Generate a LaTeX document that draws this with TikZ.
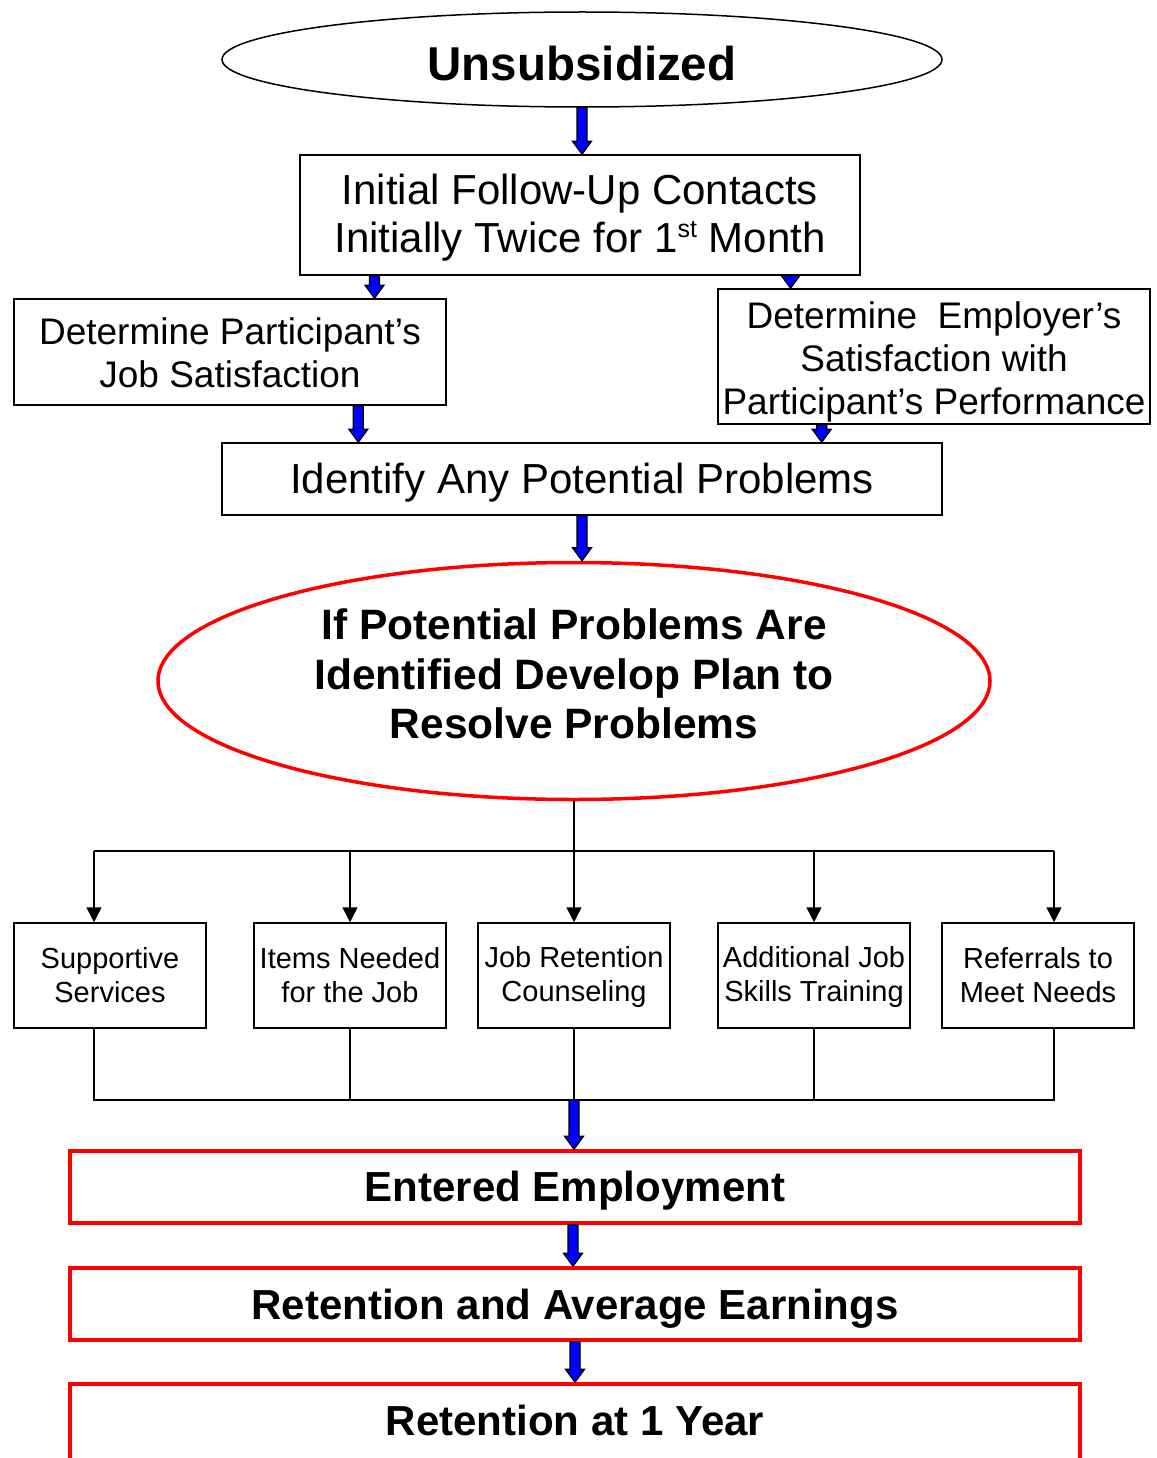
\documentclass[tikz,border=0pt]{standalone}
\usepackage{fontspec}
\setmainfont{Liberation Sans}
\usetikzlibrary{shapes.geometric,arrows.meta,calc}

\tikzset{
  conn/.style={line width=1.5pt,black},
  arr/.style={conn,-{Triangle[width=15pt,length=15pt]}},
  box/.style={draw=black,line width=1.5pt,rectangle,inner sep=0pt},
  redbox/.style={draw=red,line width=3.5pt,rectangle,inner sep=0pt,
    minimum width=1010pt,minimum height=72pt},
  txt/.style={inner sep=0pt,align=center},
  boldtxt/.style={txt,font=\fontsize{42}{48}\selectfont\bfseries},
  bigtxt/.style={txt,font=\fontsize{42}{48}\selectfont},
  midtxt/.style={txt,font=\fontsize{37}{43}\selectfont},
  smalltxt/.style={txt,font=\fontsize{29}{34}\selectfont},
  sbox/.style={box,minimum width=192pt,minimum height=105pt},
  barrow/.style={draw=black,fill=blue,line width=1.2pt,line join=miter},
}

% thick blue block arrow pointing down; x is taken from the start point
\newcommand\blockarrow[2]{%
  \draw[barrow] let \p1=(#1), \p2=(#2) in
    (\x1-5pt,\y1) -- (\x1-5pt,\y2+13pt) -- (\x1-9.5pt,\y2+13pt) -- (\x1,\y2)
    -- (\x1+9.5pt,\y2+13pt) -- (\x1+5pt,\y2+13pt) -- (\x1+5pt,\y1) -- cycle;}
\newcommand\ordsup[1]{\raisebox{15pt}{\fontsize{25}{25}\selectfont #1}}

\begin{document}
\begin{tikzpicture}[x=1pt,y=-1pt]
\useasboundingbox (0,0) rectangle (1156,1458);
\clip (0,0) rectangle (1156,1458);
\fill[white] (0,0) rectangle (1156,1458);

% upper part: shapes
\node[draw=black,line width=1.5pt,ellipse,inner sep=0pt,minimum width=720pt,minimum height=95pt]
  (unsub) at (582,59.5) {};
\node[box,minimum width=560pt,minimum height=120pt] (init) at (580,215) {};
\node[box,minimum width=432pt,minimum height=106pt] (pjs) at (230,352) {};
\node[box,minimum width=432pt,minimum height=135pt] (ejs) at (934,356.5) {};
\node[box,minimum width=720pt,minimum height=72pt] (ident) at (582,479) {};
\node[draw=red,line width=3.5pt,ellipse,inner sep=0pt,minimum width=832pt,minimum height=237pt]
  (plan) at (574,681) {};

% upper part: texts
\node[txt,font=\fontsize{47.5}{52}\selectfont\bfseries] (unsub-t) at ($(unsub)+(0,4)$) {Unsubsidized};
\node[bigtxt] (init-t) at ($(init)+(0,3)$)
  {Initial Follow-Up Contacts\\Initially Twice for 1\ordsup{st} Month};
\node[midtxt] (pjs-t) at ($(pjs)+(0,1)$) {Determine Participant’s\\Job Satisfaction};
\node[midtxt] (ejs-t) at ($(ejs)+(0,5)$)
  {Determine\ \ Employer’s\\Satisfaction with\\Participant’s Performance};
\node[bigtxt] (ident-t) at ($(ident)+(0,4)$) {Identify Any Potential Problems};
\node[txt,font=\fontsize{42.5}{49.5}\selectfont\bfseries] (plan-t) at ($(plan)+(0,-7)$)
  {If Potential Problems Are\\Identified Develop Plan to\\Resolve Problems};

\blockarrow{unsub.south}{init.north}
\blockarrow{$(init.south west)!0.134!(init.south east)$}{pjs.north}
\blockarrow{$(init.south west)!0.875!(init.south east)$}{ejs.north}
\blockarrow{$(pjs.south west)!0.796!(pjs.south east)$}{ident.north}
\blockarrow{$(ejs.south west)!0.241!(ejs.south east)$}{ident.north}
\blockarrow{ident.south}{plan.north}

% service boxes
\node[sbox] (b1) at (110,975.5) {};
\node[sbox] (b2) at (350,975.5) {};
\node[sbox] (b3) at (574,975.5) {};
\node[sbox] (b4) at (814,975.5) {};
\node[sbox] (b5) at (1038,975.5) {};
\node[smalltxt] (b1-t) at (b1) {Supportive\\Services};
\node[smalltxt] (b2-t) at (b2) {Items Needed\\for the Job};
\node[smalltxt] (b3-t) at ($(b3)+(0,1)$) {Job Retention\\Counseling};
\node[smalltxt] (b4-t) at ($(b4)+(0,1)$) {Additional Job\\Skills Training};
\node[smalltxt] (b5-t) at (b5) {Referrals to\\Meet Needs};

% split and join rails
\coordinate (t1) at (94,851);
\coordinate (t2) at (350,851);
\coordinate (t4) at (814,851);
\coordinate (t5) at (1054,851);
\coordinate (j1) at (94,1100);
\coordinate (j3) at (574,1100);
\coordinate (j5) at (1054,1100);

\draw[arr] (plan.south) -- (b3.north);
\draw[conn] (t1) -- (t5);
\draw[arr] (t1) -- (t1 |- b1.north);
\draw[arr] (t2) -- (b2.north);
\draw[arr] (t4) -- (b4.north);
\draw[arr] (t5) -- (t5 |- b5.north);

\draw[conn] (j1 |- b1.south) -- (j1) -- (j5) -- (j5 |- b5.south);
\draw[conn] (b2.south) -- (b2.south |- j1);
\draw[conn] (b3.south) -- (j3);
\draw[conn] (b4.south) -- (b4.south |- j1);

% outcome boxes
\node[redbox] (ee) at (575,1187) {};
\node[redbox] (rae) at (575,1304) {};
\node[redbox,minimum height=78pt] (r1y) at (575,1423) {};
\node[boldtxt] (ee-t) at ($(ee)+(0,4)$) {Entered Employment};
\node[boldtxt] (rae-t) at ($(rae)+(0,5)$) {Retention and Average Earnings};
\node[boldtxt] (r1y-t) at ($(r1y)+(0,-3)$) {Retention at 1 Year};

\blockarrow{j3}{ee.north}
\blockarrow{$(ee.south)+(-2,0)$}{rae.north}
\blockarrow{rae.south}{r1y.north}
\end{tikzpicture}
\end{document}
